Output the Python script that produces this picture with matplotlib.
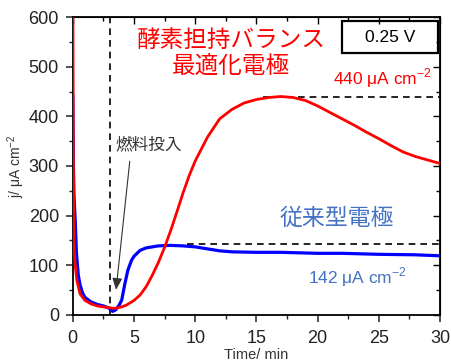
import matplotlib
matplotlib.use("Agg")
import matplotlib.pyplot as plt
from matplotlib.patches import Rectangle
from matplotlib.ticker import MultipleLocator

plt.rcParams['font.family'] = ['Liberation Sans', 'Noto Sans CJK JP']
plt.rcParams['mathtext.fontset'] = 'custom'
plt.rcParams['mathtext.rm'] = 'Liberation Sans'

# enzyme-balanced electrode (red)
t_red = [0, 0.05, 0.1, 0.2, 0.33, 0.6, 1.0, 1.5, 2.0, 2.8, 3.4, 4.0, 4.4, 5.0, 5.5,
         6.0, 6.5, 7.0, 7.5, 8.0, 8.5, 9.0, 9.5, 10, 11, 12, 13, 14, 15, 16, 17,
         18, 19, 20, 21, 22, 23, 24, 25, 26, 27, 28, 29, 30]
j_red = [700, 320, 140, 100, 70, 42, 29, 22, 18, 15, 13, 16, 20, 29, 40,
         57, 80, 106, 136, 170, 207, 245, 280, 310, 358, 395, 414, 427, 434, 438, 440,
         438, 432, 421, 408, 395, 382, 368, 355, 341, 328, 319, 312, 305]

# conventional electrode (blue)
t_blue = [0, 0.05, 0.1, 0.2, 0.3, 0.45, 0.6, 0.8, 1.0, 1.5, 2.0, 2.5, 3.0, 3.25, 3.5,
          3.8, 4.0, 4.25, 4.5, 4.8, 5.0, 5.5, 6.0, 6.5, 7.0, 8.0, 9, 10, 11, 12, 13,
          15, 17, 20, 22, 25, 28, 30]
j_blue = [440, 300, 240, 190, 125, 80, 60, 44, 35, 26, 21, 18, 13, 7, 10,
          20, 30, 62, 90, 110, 118, 130, 135, 137, 139, 140, 139, 137, 133, 129, 127,
          126, 126, 124, 124, 122, 121, 119]

fuel_time = 3.05
peak_red = 440
peak_blue = 142

fig = plt.figure(figsize=(4.52, 3.64), dpi=100)
ax = fig.add_axes([0.161, 0.135, 0.8125, 0.818])

ax.plot(t_blue, j_blue, color='#0000ff', lw=2.3, zorder=3)
ax.plot(t_red, j_red, color='#ff0000', lw=2.0, zorder=4)

ax.plot([fuel_time, fuel_time], [0, 600], ls=(0, (4, 3)), color='black', lw=1.2, zorder=2)
ax.plot([15.5, 30], [peak_red, peak_red], ls=(0, (4, 3)), color='black', lw=1.2, zorder=2)
ax.plot([9.3, 30], [peak_blue, peak_blue], ls=(0, (4, 3)), color='black', lw=1.2, zorder=2)

ax.set_xlim(0, 30)
ax.set_ylim(0, 600)
ax.xaxis.set_major_locator(MultipleLocator(5))
ax.xaxis.set_minor_locator(MultipleLocator(2.5))
ax.yaxis.set_major_locator(MultipleLocator(100))
ax.yaxis.set_minor_locator(MultipleLocator(50))
ax.tick_params(which='major', direction='out', length=5, width=1.1, labelsize=13, colors='#222222')
ax.tick_params(axis='y', which='major', pad=5)
ax.tick_params(axis='x', which='major', pad=6)
ax.tick_params(which='minor', direction='out', length=3, width=1.0, colors='#222222')
for s in ax.spines.values():
    s.set_linewidth(1.3)

# inward ticks on top and right
top = ax.secondary_xaxis('top')
top.xaxis.set_major_locator(MultipleLocator(5))
top.xaxis.set_minor_locator(MultipleLocator(2.5))
top.tick_params(which='both', direction='in', length=5, width=1.0, labeltop=False)
top.tick_params(which='minor', length=3)
right = ax.secondary_yaxis('right')
right.yaxis.set_major_locator(MultipleLocator(100))
right.yaxis.set_minor_locator(MultipleLocator(50))
right.tick_params(which='both', direction='in', length=5, width=1.0, labelright=False)
right.tick_params(which='minor', length=3)

ax.set_xlabel('Time/ min', fontsize=10.5, color='#333333')
ax.xaxis.set_label_coords(0.5, -0.112)
ax.set_ylabel('j/ μA cm$^{\\mathregular{-2}}$', fontsize=10, color='#333333')
ax.yaxis.set_label_coords(-0.124, 0.5)

jp = ['Noto Sans CJK JP']
ax.text(12.93, 552, '酵素担持バランス', color='#ff0000', fontsize=17, family=jp,
        ha='center', va='center')
ax.text(12.93, 498, '最適化電極', color='#ff0000', fontsize=17, family=jp,
        ha='center', va='center')
ax.text(29.35, 465, '440 μA cm$^{\\mathregular{-2}}$', color='#ff0000', fontsize=12.5,
        ha='right', va='baseline')
ax.text(21.6, 195, '従来型電極', color='#4472c4', fontsize=16.5, family=jp,
        ha='center', va='center')
ax.text(27.3, 64, '142 μA cm$^{\\mathregular{-2}}$', color='#4472c4', fontsize=12.5,
        ha='right', va='baseline')
ax.text(3.45, 342, '燃料投入', color='#333333', fontsize=12, family=jp,
        ha='left', va='center')
ax.annotate('', xy=(3.51, 45), xytext=(4.68, 315),
            arrowprops=dict(arrowstyle='-|>,head_length=0.7,head_width=0.3',
                            color='#333333', lw=0.8))

ax.add_patch(Rectangle((0.733, 0.879), 0.261, 0.108, transform=ax.transAxes,
                       fill=False, lw=1.6, ec='black', zorder=5))
ax.text(0.8635, 0.933, '0.25 V', transform=ax.transAxes, fontsize=12.5,
        ha='center', va='center', zorder=6)

fig.savefig('out.png', dpi=100)
